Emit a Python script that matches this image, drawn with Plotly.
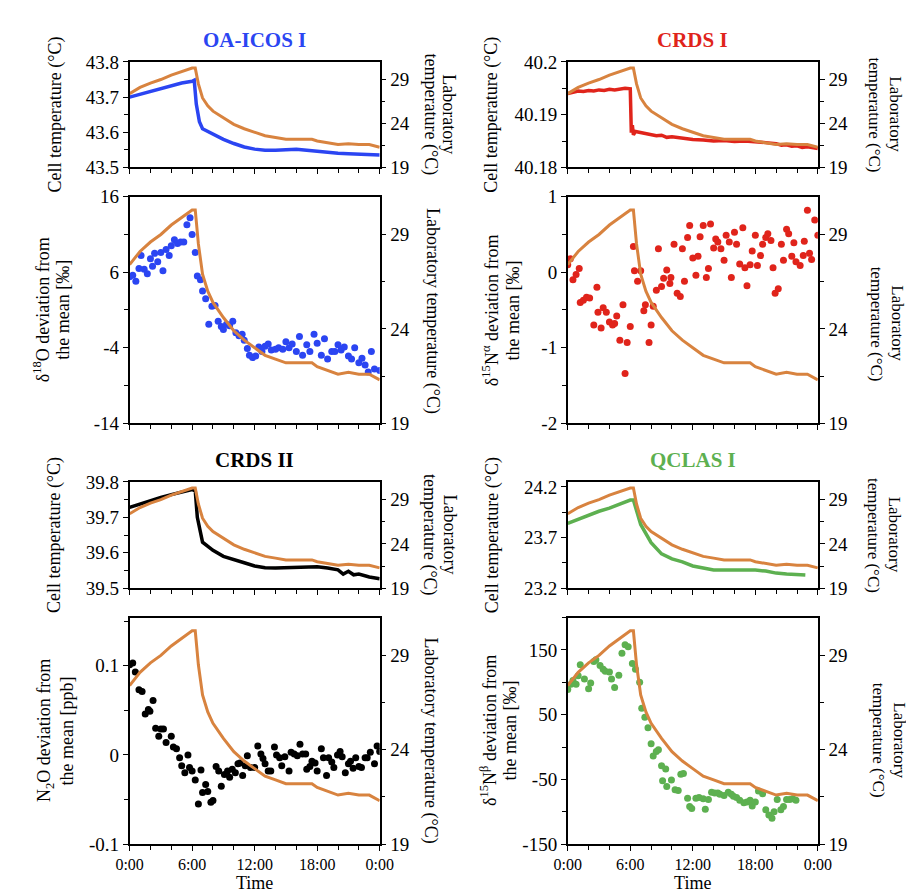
import plotly.graph_objects as go

# ---------------- data ----------------
lab_t = [0,1,2,3,4,5,6,6.3,6.6,7,7.5,8,9,10,11,12,13,14,15,16,17,17.5,18,19,20,21,22,23,24]
lab_v = [27.4,28.1,28.6,29.0,29.5,29.9,30.3,30.3,28.5,26.9,26.0,25.4,24.6,23.9,23.4,23.0,22.6,22.4,22.2,22.2,22.2,22.2,22.0,21.8,21.6,21.7,21.6,21.6,21.3]

icos_cell_t = [0,1,2,3,4,5,6,6.2,6.4,6.7,7,8,9,10,11,12,13,14,15,16,17,18,19,20,21,22,23,24]
icos_cell_v = [43.70,43.708,43.716,43.724,43.732,43.740,43.745,43.748,43.68,43.63,43.61,43.595,43.58,43.568,43.558,43.552,43.549,43.549,43.551,43.552,43.549,43.546,43.542,43.540,43.539,43.538,43.536,43.535]

crds1_cell_t = [0,0.5,1,1.5,2,2.5,3,3.5,4,4.5,5,5.5,6,6.05,6.1,6.2,6.3,6.5,7,7.5,8,8.5,9,9.5,10,11,12,13,14,15,16,17,18,19,20,20.5,21,21.5,22,22.5,23,23.5,24]
crds1_cell_v = [40.1940,40.1943,40.1945,40.1944,40.1946,40.1945,40.1947,40.1946,40.1948,40.1947,40.1949,40.1950,40.1949,40.1900,40.1866,40.1880,40.1862,40.1868,40.1866,40.1863,40.1862,40.1860,40.1861,40.1857,40.1858,40.1855,40.1853,40.1852,40.1850,40.1851,40.1849,40.1850,40.1849,40.1847,40.1845,40.1842,40.1843,40.1840,40.1841,40.1838,40.1839,40.1837,40.1836]

crds2_cell_t = [0,1,2,3,4,5,6,6.3,6.5,7,8,9,10,11,12,13,14,15,16,17,18,19,20,20.5,21,21.5,22,23,24]
crds2_cell_v = [39.728,39.738,39.748,39.756,39.764,39.771,39.778,39.775,39.70,39.63,39.607,39.590,39.580,39.572,39.563,39.558,39.557,39.558,39.560,39.561,39.561,39.557,39.552,39.540,39.548,39.538,39.540,39.532,39.527]

qclas_cell_t = [0,1,2,3,4,5,6,6.3,7,8,9,10,11,12,13,14,15,16,17,18,19,20,21,22,22.8]
qclas_cell_v = [23.84,23.88,23.92,23.96,23.99,24.03,24.07,24.07,23.83,23.65,23.54,23.49,23.46,23.42,23.40,23.38,23.38,23.38,23.385,23.38,23.37,23.35,23.34,23.33,23.33]

d18o_t = [0,0.3,0.6,0.9,1.1,1.4,1.7,2.0,2.2,2.4,2.7,3.0,3.2,3.5,3.8,4.0,4.3,4.6,4.9,5.2,5.5,5.8,6.0,6.3,6.5,6.8,7.0,7.3,7.6,7.9,8.2,8.5,8.8,9.0,9.3,9.6,9.9,10.2,10.5,10.8,11.0,11.3,11.5,11.8,12.1,12.4,12.7,13.0,13.3,13.6,14.0,14.3,14.7,15.0,15.3,15.6,16.0,16.3,16.6,17.0,17.3,17.7,18.0,18.4,18.7,19.0,19.4,19.7,20.0,20.3,20.6,21.0,21.3,21.6,22.0,22.3,22.6,22.9,23.2,23.5,24.0]
d18o_v = [5.4,5.6,4.8,6.5,8.2,6.4,5.8,7.8,6.8,8.5,7.4,8.6,6.2,9.0,8.2,9.5,10.3,9.8,10.0,10.0,12.3,13.2,11.0,8.6,5.5,5.0,3.5,2.5,-0.9,1.5,1.6,-0.5,-1.2,-1.6,-0.9,-1.1,-0.5,-2.0,-2.4,-2.2,-3.0,-4.1,-5.0,-5.3,-5.1,-3.9,-4.5,-3.8,-3.5,-4.3,-4.2,-4.0,-4.2,-3.2,-4.0,-3.5,-4.5,-2.5,-5.0,-3.6,-4.5,-2.2,-3.4,-5.0,-2.8,-5.5,-4.5,-4.5,-3.6,-4.3,-3.9,-5.1,-5.5,-4.0,-6.0,-5.4,-6.3,-7.2,-4.5,-6.8,-7.0]

d15na_t = [0,0.25,0.5,0.8,1.1,1.2,1.5,1.8,2.1,2.5,2.8,2.9,3.2,3.4,3.7,4.0,4.3,4.5,4.7,5.0,5.3,5.5,5.7,6.0,6.3,6.4,6.7,7.0,7.3,7.45,7.8,8.0,8.2,8.5,8.7,9.0,9.2,9.5,9.8,9.9,10.2,10.5,10.8,11.0,11.2,11.5,11.7,12.0,12.3,12.5,12.7,13.0,13.3,13.5,13.7,14.0,14.2,14.4,14.7,15.0,15.2,15.5,15.7,16.0,16.2,16.5,16.8,17.0,17.2,17.5,17.7,18.0,18.2,18.5,18.7,19.0,19.2,19.5,19.7,19.9,20.2,20.5,20.7,21.0,21.2,21.5,21.7,21.9,22.3,22.6,22.7,23.0,23.2,23.4,23.7,24.0]
d15na_v = [0.1,0.18,-0.1,-0.03,0.05,-0.4,-0.37,-0.33,-0.34,-0.7,-0.2,-0.53,-0.74,-0.47,-0.53,-0.66,-0.7,-0.68,-0.58,-0.9,-0.43,-1.34,-0.93,-0.72,0.34,0.02,-0.12,0.02,-0.51,-0.43,-0.93,-0.7,-0.45,-0.24,0.31,-0.19,-0.08,0.03,-0.15,-0.07,0.37,-0.28,-0.32,0.31,-0.12,0.46,0.62,0.19,-0.04,0.21,0.47,0.62,-0.07,0.05,0.64,0.32,0.44,0.4,0.31,0.16,0.49,0.4,-0.07,0.53,0.37,0.11,0.59,0.06,-0.18,0.1,0.28,0.49,0.09,0.22,0.37,0.46,0.51,0.42,0.06,-0.28,-0.22,0.37,0.16,0.57,0.51,0.21,0.39,0.14,0.09,0.22,0.41,0.82,0.25,0.17,0.69,0.49]

n2o_t = [0,0.3,0.55,0.9,1.2,1.5,1.8,1.95,2.25,2.5,2.8,3.0,3.25,3.5,4.0,4.2,4.5,4.8,5.0,5.3,5.6,5.75,6.0,6.3,6.6,6.85,7.0,7.3,7.5,7.8,8.0,8.3,8.55,8.8,9.1,9.4,9.6,9.85,10.15,10.4,10.6,10.85,11.1,11.3,11.6,12.0,12.3,12.6,12.8,13.0,13.3,13.55,13.9,14.1,14.4,14.6,14.9,15.3,15.5,15.8,16.1,16.35,16.6,16.9,17.0,17.3,17.5,17.8,18.0,18.4,18.6,18.9,19.1,19.4,19.6,19.95,20.2,20.4,20.7,21.0,21.2,21.45,21.7,22.0,22.25,22.6,22.8,23.1,23.5,23.75,24.0]
n2o_v = [0.101,0.103,0.093,0.073,0.071,0.046,0.051,0.049,0.061,0.03,0.021,0.029,0.029,0.014,0.021,0.009,0.007,-0.003,-0.012,-0.02,0.0,-0.014,-0.018,-0.028,-0.055,-0.017,-0.042,-0.033,-0.041,-0.053,-0.051,-0.013,-0.018,-0.035,-0.022,-0.018,-0.025,-0.016,-0.02,-0.01,-0.009,-0.023,-0.012,-0.001,-0.014,-0.014,0.01,0.001,-0.004,-0.01,-0.018,-0.018,0.009,0.0,-0.003,-0.012,-0.002,-0.018,0.003,0.001,-0.001,0.012,0.001,0.001,-0.016,-0.013,-0.007,-0.009,-0.018,0.007,-0.003,-0.023,-0.003,-0.008,-0.014,0.0,0.004,-0.002,-0.02,-0.01,-0.007,-0.015,-0.003,-0.013,-0.014,-0.003,-0.003,0.003,-0.01,0.01,0.004]

d15nb_t = [0,0.3,0.5,0.8,1.0,1.2,1.6,2.0,2.2,2.5,2.7,3.1,3.4,3.6,4.0,4.2,4.5,4.9,5.2,5.5,5.8,6.2,6.5,6.9,7.1,7.4,7.7,8.0,8.2,8.5,8.7,9.0,9.1,9.4,9.5,9.95,10.3,10.6,10.85,11.1,11.5,11.7,11.9,12.3,12.6,13.0,13.2,13.5,13.8,14.1,14.4,14.6,15.0,15.4,15.7,15.9,16.2,16.5,16.9,17.2,17.5,17.7,18.0,18.3,18.7,19.0,19.3,19.6,19.8,20.1,20.45,20.7,21.0,21.3,21.6,21.9]
d15nb_v = [89,97,103,97,110,127,105,90,99,132,135,126,120,117,116,105,92,111,145,158,155,129,120,100,60,46,30,5,-14,-7,-4,-29,-52,-34,-61,-51,-66,-67,-42,-41,-79,-92,-95,-79,-78,-80,-96,-81,-70,-71,-71,-73,-75,-70,-73,-76,-78,-82,-86,-85,-82,-91,-85,-68,-72,-97,-105,-110,-100,-81,-97,-92,-81,-81,-80,-82]

time_ticks = [0, 6, 12, 18, 24]
time_labels = ["0:00", "6:00", "12:00", "18:00", "0:00"]
lab_ticks = [19, 24, 29]

titles = ["OA-ICOS I", "CRDS I", "CRDS II", "QCLAS I"]
title_colors = ["#2B45F2", "#E0241B", "#000000", "#5DB050"]
ORANGE = "#D8833F"
FONT = "serif"

W, H = 914, 895
colx = [(111, 369), (563, 821)]
rowy = [(45, 153), (183, 415), (475, 584), (614, 846)]

fig = go.Figure()
layout = dict(width=W, height=H, margin=dict(l=0, r=0, t=0, b=0),
              paper_bgcolor="white", plot_bgcolor="white", showlegend=False,
              font=dict(family=FONT, size=17, color="black"))

panels = [
    (0, 0, [43.5, 43.8], [43.5, 43.6, 43.7, 43.8], ["43.5", "43.6", "43.7", "43.8"], 0.05, 43.5),
    (0, 1, [-14, 16], [-14, -4, 6, 16], ["-14", "-4", "6", "16"], 5, -14),
    (1, 0, [40.18, 40.20], [40.18, 40.19, 40.20], ["40.18", "40.19", "40.2"], 0.005, 40.18),
    (1, 1, [-2, 1], [-2, -1, 0, 1], ["-2", "-1", "0", "1"], 0.5, -2),
    (0, 2, [39.5, 39.8], [39.5, 39.6, 39.7, 39.8], ["39.5", "39.6", "39.7", "39.8"], 0.05, 39.5),
    (0, 3, [-0.1, 0.154], [-0.1, 0, 0.1], ["-0.1", "0", "0.1"], 0.05, -0.1),
    (1, 2, [23.2, 24.25], [23.2, 23.7, 24.2], ["23.2", "23.7", "24.2"], 0.25, 23.2),
    (1, 3, [-150, 200], [-150, -50, 50, 150], ["-150", "-50", "50", "150"], 50, -150),
]

series = [
    ("line", icos_cell_t, icos_cell_v, title_colors[0]),
    ("mark", d18o_t, d18o_v, title_colors[0]),
    ("line", crds1_cell_t, crds1_cell_v, title_colors[1]),
    ("mark", d15na_t, d15na_v, title_colors[1]),
    ("line", crds2_cell_t, crds2_cell_v, title_colors[2]),
    ("mark", n2o_t, n2o_v, title_colors[2]),
    ("line", qclas_cell_t, qclas_cell_v, title_colors[3]),
    ("mark", d15nb_t, d15nb_v, title_colors[3]),
]

left_titles = {
    0: [("Cell temperature (°C)", 35)],
    1: [("δ<sup>18</sup>O deviation from", 21), ("the mean [‰]", 42)],
    2: [("Cell temperature (°C)", 485)],
    3: [("δ<sup>15</sup>N<sup>α</sup> deviation from", 484), ("the mean [‰]", 506)],
    4: [("Cell temperature (°C)", 33)],
    5: [("N<sub>2</sub>O deviation from", 25), ("the mean [ppb]", 46)],
    6: [("Cell temperature (°C)", 485)],
    7: [("δ<sup>15</sup>N<sup>β</sup> deviation from", 482), ("the mean [‰]", 503)],
}
right_titles = {
    0: [("Laboratory", 441), ("temperature (°C)", 421)],
    1: [("Laboratory temperature (°C)", 423)],
    2: [("Laboratory", 901), ("temperature (°C)", 879)],
    3: [("Laboratory", 903), ("temperature (°C)", 881)],
    4: [("Laboratory", 441), ("temperature (°C)", 421)],
    5: [("Laboratory temperature (°C)", 421)],
    6: [("Laboratory", 901), ("temperature (°C)", 879)],
    7: [("Laboratory", 905), ("temperature (°C)", 883)],
}
right_centers = {0: 104, 1: 300, 2: 104, 3: 313, 4: 466, 5: 740, 6: 466, 7: 740}

annotations = []
for i, (c, r, rng, tv, tt, mdt, t0) in enumerate(panels):
    n = i + 1
    x0, x1 = colx[c]
    y0, y1 = rowy[r]
    xd = [x0 / W, x1 / W]
    yd = [1 - y1 / H, 1 - y0 / H]
    xa = dict(domain=xd, range=[0, 24], anchor=f"y{2*n-1}", showline=True, linecolor="black",
              linewidth=1.5, mirror=True, ticks="outside", ticklen=5, tickcolor="black",
              tickvals=time_ticks, ticktext=time_labels, showgrid=False, zeroline=False,
              tickfont=dict(size=16),
              minor=dict(dtick=2, tick0=0, ticks="outside", ticklen=4, tickcolor="black"))
    if r == 3:
        xa["title"] = dict(text="Time", font=dict(size=18), standoff=2)
    else:
        xa["showticklabels"] = False
    layout[f"xaxis{n}"] = xa
    layout[f"yaxis{2*n-1}"] = dict(domain=yd, range=rng, anchor=f"x{n}", showline=True,
                                  linecolor="black", linewidth=1.5, ticks="outside", ticklen=5,
                                  tickcolor="black", tickvals=tv, ticktext=tt, showgrid=False,
                                  zeroline=False, tickfont=dict(size=19),
                                  minor=dict(dtick=mdt, tick0=t0, ticks="outside", ticklen=4, tickcolor="black"))
    layout[f"yaxis{2*n}"] = dict(range=[19, 31], overlaying=f"y{2*n-1}", anchor=f"x{n}", side="right",
                                showline=True, linecolor="black", linewidth=1.5, ticks="outside",
                                ticklen=5, tickcolor="black", tickvals=lab_ticks,
                                showgrid=False, zeroline=False, tickfont=dict(size=19),
                                minor=dict(dtick=2.5, tick0=19, ticks="outside", ticklen=4, tickcolor="black"))
    kind, tx, ty, col = series[i]
    if kind == "line":
        fig.add_trace(go.Scatter(x=tx, y=ty, mode="lines", line=dict(color=col, width=3.5),
                                 xaxis=f"x{n}", yaxis=f"y{2*n-1}"))
    else:
        fig.add_trace(go.Scatter(x=tx, y=ty, mode="markers", marker=dict(color=col, size=7),
                                 xaxis=f"x{n}", yaxis=f"y{2*n-1}"))
    fig.add_trace(go.Scatter(x=lab_t, y=lab_v, mode="lines", line=dict(color=ORANGE, width=3),
                             xaxis=f"x{n}", yaxis=f"y{2*n}"))

    ymid = 1 - (y0 + y1) / 2 / H
    for txt, px in left_titles[i]:
        annotations.append(dict(text=txt, x=px / W, y=ymid, xref="paper", yref="paper", textangle=-90,
                                showarrow=False, font=dict(size=18), xanchor="center", yanchor="middle"))
    rc = 1 - right_centers[i] / H if r in (1, 3) else ymid
    rsize = 17 if c == 1 else 18
    for txt, px in right_titles[i]:
        annotations.append(dict(text=txt, x=px / W, y=rc, xref="paper", yref="paper", textangle=90,
                                showarrow=False, font=dict(size=rsize), xanchor="center", yanchor="middle"))

for k, (c, r) in enumerate([(0, 0), (1, 0), (0, 2), (1, 2)]):
    x0, x1 = colx[c]
    annotations.append(dict(text=f"<b>{titles[k]}</b>", x=(x0 + x1) / 2 / W,
                            y=1 - (rowy[r][0] - 22) / H, xref="paper", yref="paper",
                            showarrow=False, font=dict(size=21, color=title_colors[k]),
                            xanchor="center", yanchor="middle"))

layout["annotations"] = annotations
fig.update_layout(**layout)
fig.write_html("out.html")
